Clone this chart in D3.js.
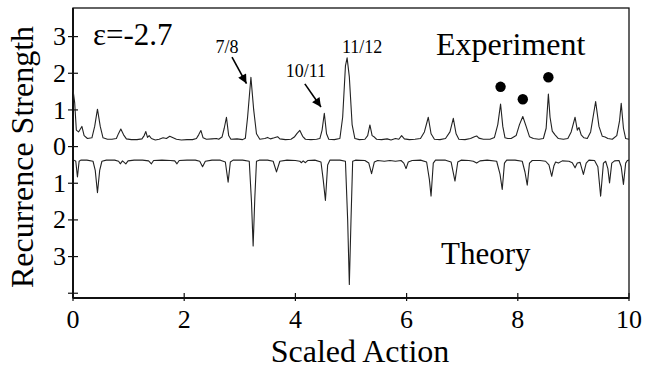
<!DOCTYPE html>
<html>
<head>
<meta charset="utf-8">
<script src="https://cdn.jsdelivr.net/npm/d3@7"></script>
<style>
  body { margin: 0; background: #fff; }
</style>
</head>
<body>
<div id="chart"></div>
<script>
  // [scaled action, recurrence strength]
  var experiment = [
    [0.00,1.55],[0.03,1.20],[0.06,0.45],[0.10,0.40],[0.16,0.55],[0.20,0.30],[0.26,0.22],[0.34,0.24],
    [0.39,0.55],[0.44,1.02],[0.49,0.55],[0.54,0.24],[0.62,0.20],[0.70,0.20],[0.78,0.22],[0.82,0.36],
    [0.86,0.48],[0.91,0.32],[0.96,0.21],[1.05,0.19],[1.15,0.19],[1.24,0.21],[1.28,0.30],[1.31,0.41],
    [1.34,0.25],[1.37,0.30],[1.41,0.22],[1.48,0.18],[1.55,0.20],[1.62,0.24],[1.68,0.22],[1.74,0.28],
    [1.80,0.24],[1.86,0.20],[1.95,0.18],[2.05,0.19],[2.15,0.19],[2.22,0.22],[2.26,0.32],[2.30,0.44],
    [2.34,0.24],[2.40,0.20],[2.50,0.21],[2.58,0.22],[2.62,0.20],[2.68,0.26],[2.72,0.50],[2.76,0.80],
    [2.80,0.30],[2.84,0.20],[2.95,0.21],[3.05,0.19],[3.10,0.23],[3.14,0.80],[3.20,1.89],[3.25,1.00],
    [3.30,0.35],[3.36,0.20],[3.45,0.22],[3.50,0.25],[3.55,0.21],[3.62,0.24],[3.68,0.27],[3.72,0.21],
    [3.82,0.19],[3.92,0.20],[3.98,0.26],[4.03,0.36],[4.08,0.44],[4.13,0.28],[4.18,0.20],[4.28,0.19],
    [4.38,0.20],[4.44,0.22],[4.48,0.45],[4.52,0.91],[4.56,0.35],[4.60,0.20],[4.70,0.19],[4.80,0.22],
    [4.85,0.80],[4.90,2.20],[4.93,2.42],[4.97,1.90],[5.02,0.60],[5.07,0.22],[5.15,0.19],[5.25,0.20],
    [5.30,0.30],[5.34,0.59],[5.38,0.30],[5.42,0.26],[5.46,0.20],[5.55,0.19],[5.65,0.21],[5.72,0.18],
    [5.80,0.22],[5.86,0.20],[5.91,0.30],[5.96,0.21],[6.05,0.19],[6.15,0.20],[6.25,0.22],[6.32,0.40],
    [6.39,0.80],[6.44,0.35],[6.50,0.20],[6.60,0.19],[6.70,0.22],[6.78,0.40],[6.84,0.77],[6.89,0.35],
    [6.94,0.20],[7.05,0.19],[7.15,0.22],[7.22,0.27],[7.26,0.29],[7.30,0.23],[7.38,0.20],[7.50,0.20],
    [7.58,0.25],[7.64,0.60],[7.69,1.16],[7.73,0.55],[7.77,0.24],[7.82,0.22],[7.88,0.22],[7.97,0.30],
    [8.03,0.60],[8.09,0.82],[8.15,0.55],[8.21,0.27],[8.28,0.22],[8.38,0.20],[8.46,0.22],[8.51,0.50],
    [8.55,1.43],[8.58,0.80],[8.62,0.42],[8.67,0.32],[8.73,0.22],[8.82,0.20],[8.90,0.22],[8.96,0.40],
    [9.03,0.80],[9.07,0.45],[9.10,0.52],[9.14,0.32],[9.19,0.24],[9.25,0.22],[9.31,0.40],[9.40,1.23],
    [9.46,0.55],[9.52,0.28],[9.57,0.26],[9.62,0.22],[9.70,0.20],[9.78,0.30],[9.83,0.70],[9.86,1.18],
    [9.90,0.50],[9.94,0.22],[10.0,0.20]
  ];

  // theory is plotted downward
  var theory = [
    [0.02,-0.37],[0.05,-0.40],[0.08,-0.83],[0.11,-0.40],[0.14,-0.37],[0.25,-0.37],[0.36,-0.40],[0.40,-0.65],
    [0.44,-1.26],[0.48,-0.65],[0.52,-0.40],[0.60,-0.37],[0.75,-0.37],[0.82,-0.40],[0.85,-0.47],[0.89,-0.39],
    [0.95,-0.47],[0.99,-0.39],[1.10,-0.37],[1.25,-0.37],[1.36,-0.39],[1.41,-0.47],[1.45,-0.38],[1.60,-0.37],
    [1.75,-0.38],[1.83,-0.39],[1.87,-0.47],[1.91,-0.38],[2.05,-0.37],[2.20,-0.37],[2.28,-0.40],[2.33,-0.55],
    [2.38,-0.40],[2.50,-0.37],[2.65,-0.37],[2.74,-0.42],[2.79,-0.97],[2.83,-0.42],[2.88,-0.37],[3.05,-0.37],
    [3.17,-0.40],[3.21,-1.50],[3.24,-2.71],[3.27,-1.40],[3.30,-0.40],[3.35,-0.37],[3.50,-0.37],[3.60,-0.40],
    [3.66,-0.69],[3.72,-0.40],[3.85,-0.37],[4.00,-0.38],[4.08,-0.40],[4.11,-0.44],[4.14,-0.39],[4.18,-0.44],
    [4.22,-0.38],[4.35,-0.37],[4.46,-0.42],[4.50,-0.90],[4.54,-1.47],[4.58,-0.50],[4.62,-0.37],[4.80,-0.37],
    [4.90,-0.40],[4.94,-2.00],[4.97,-3.76],[5.00,-2.00],[5.03,-0.40],[5.08,-0.37],[5.25,-0.38],[5.32,-0.45],
    [5.37,-0.74],[5.42,-0.42],[5.48,-0.38],[5.60,-0.40],[5.70,-0.38],[5.80,-0.40],[5.90,-0.38],[5.95,-0.45],
    [5.99,-0.60],[6.03,-0.42],[6.10,-0.38],[6.25,-0.37],[6.36,-0.42],[6.41,-0.90],[6.44,-1.35],[6.48,-0.45],
    [6.52,-0.37],[6.70,-0.37],[6.80,-0.42],[6.87,-0.94],[6.92,-0.42],[6.98,-0.37],[7.12,-0.38],[7.20,-0.40],
    [7.26,-0.45],[7.32,-0.39],[7.45,-0.37],[7.62,-0.40],[7.68,-0.75],[7.72,-1.17],[7.76,-0.45],[7.80,-0.37],
    [7.95,-0.37],[8.08,-0.40],[8.13,-0.70],[8.17,-1.05],[8.21,-0.45],[8.26,-0.38],[8.40,-0.38],[8.50,-0.40],
    [8.56,-0.50],[8.61,-0.81],[8.65,-0.52],[8.68,-0.42],[8.73,-0.45],[8.80,-0.39],[8.92,-0.40],[8.98,-0.44],
    [9.03,-0.58],[9.07,-0.45],[9.12,-0.43],[9.18,-0.76],[9.23,-0.45],[9.28,-0.37],[9.38,-0.38],[9.44,-0.55],
    [9.49,-1.35],[9.54,-0.45],[9.58,-0.40],[9.62,-0.60],[9.65,-0.99],[9.69,-0.45],[9.74,-0.39],[9.82,-0.38],
    [9.86,-0.55],[9.90,-1.03],[9.94,-0.45],[9.97,-0.38],[10.0,-0.37]
  ];

  // marked peaks (the three dots)
  var dots = [[7.69,1.63],[8.09,1.29],[8.55,1.89]];

  var xTicks = [0, 2, 4, 6, 8, 10];
  var yTicks = [3, 2, 1, 0, -1, -2, -3, -4];
  var yLabels = ["3", "2", "1", "0", "1", "2", "3", ""];

  // peak labels: text position and arrow (from -> to), in data units
  var peakLabels = [
    {text: "7/8",   x: 2.77, y: 2.55, arrow: [[2.86, 2.44], [3.12, 1.72]]},
    {text: "10/11", x: 4.19, y: 1.90, arrow: [[4.17, 1.71], [4.46, 1.08]]},
    {text: "11/12", x: 5.20, y: 2.55, arrow: null}
  ];

  var serif = "'Liberation Serif'";

  var margin = {top: 8, right: 17, bottom: 72, left: 73},
      width = 646 - margin.left - margin.right,
      height = 370 - margin.top - margin.bottom;

  var svg = d3.select("#chart")
    .append("svg")
      .attr("width", 646)
      .attr("height", 370)
      .style("font-family", serif)
    .append("g")
      .attr("transform", "translate(" + margin.left + "," + margin.top + ")");

  var x = d3.scaleLinear().domain([0, 10]).range([0, width]);
  var y = d3.scaleLinear().domain([-4.13, 3.78]).range([height, 0]);

  // frame
  svg.append("rect")
    .attr("width", width)
    .attr("height", height)
    .attr("fill", "none")
    .attr("stroke", "#111")
    .attr("stroke-width", 1.3);

  // axes: ticks cross the frame line
  var xAxis = svg.append("g").attr("transform", "translate(0," + height + ")");
  xAxis.append("line").attr("x1", 0).attr("x2", width).attr("stroke", "#111").attr("stroke-width", 2);
  xAxis.selectAll(".tk").data(xTicks).enter().append("line")
    .attr("x1", d => x(d)).attr("x2", d => x(d))
    .attr("y1", -5).attr("y2", 3)
    .attr("stroke", "#111").attr("stroke-width", 1.2);
  xAxis.selectAll("text").data(xTicks).enter().append("text")
    .attr("x", d => x(d))
    .attr("y", 30)
    .attr("text-anchor", "middle")
    .style("font-family", serif)
    .style("font-size", "26px")
    .text(d => d);

  var yAxis = svg.append("g");
  yAxis.append("line").attr("y1", 0).attr("y2", height).attr("stroke", "#111").attr("stroke-width", 2);
  yAxis.selectAll(".tk").data(yTicks).enter().append("line")
    .attr("y1", d => y(d)).attr("y2", d => y(d))
    .attr("x1", -5).attr("x2", 5)
    .attr("stroke", "#111").attr("stroke-width", 1.2);
  yAxis.selectAll("text").data(yTicks).enter().append("text")
    .attr("x", -7)
    .attr("y", d => y(d))
    .attr("dy", "0.33em")
    .attr("text-anchor", "end")
    .style("font-family", serif)
    .style("font-size", "26px")
    .text((d, i) => yLabels[i]);

  // curves
  var line = d3.line()
    .x(d => x(d[0]))
    .y(d => y(d[1]));

  svg.append("path")
    .datum(experiment)
    .attr("d", line)
    .attr("fill", "none")
    .attr("stroke", "#222")
    .attr("stroke-width", 1.1)
    .attr("stroke-linejoin", "round");

  svg.append("path")
    .datum(theory)
    .attr("d", line)
    .attr("fill", "none")
    .attr("stroke", "#222")
    .attr("stroke-width", 1.1)
    .attr("stroke-linejoin", "round");

  svg.selectAll(".dot").data(dots).enter().append("circle")
    .attr("cx", d => x(d[0]))
    .attr("cy", d => y(d[1]))
    .attr("r", 5.2)
    .attr("fill", "#000");

  // arrowhead
  svg.append("defs").append("marker")
    .attr("id", "head")
    .attr("viewBox", "0 0 10 10")
    .attr("refX", 10).attr("refY", 5)
    .attr("markerWidth", 11).attr("markerHeight", 9)
    .attr("markerUnits", "userSpaceOnUse")
    .attr("orient", "auto")
    .append("path")
      .attr("d", "M0,0L10,5L0,10Z")
      .attr("fill", "#000");

  svg.selectAll(".plabel").data(peakLabels).enter().append("text")
    .attr("x", d => x(d.x))
    .attr("y", d => y(d.y))
    .attr("text-anchor", "middle")
    .style("font-family", serif)
    .style("font-size", "18px")
    .text(d => d.text);

  svg.selectAll(".arrow").data(peakLabels.filter(d => d.arrow)).enter().append("line")
    .attr("x1", d => x(d.arrow[0][0])).attr("y1", d => y(d.arrow[0][1]))
    .attr("x2", d => x(d.arrow[1][0])).attr("y2", d => y(d.arrow[1][1]))
    .attr("stroke", "#000")
    .attr("stroke-width", 1.6)
    .attr("marker-end", "url(#head)");

  // panel texts
  svg.append("text").attr("x", 20).attr("y", 37)
    .style("font-family", serif).style("font-size", "31px").text("ε=-2.7");
  svg.append("text").attr("x", 363).attr("y", 47)
    .style("font-family", serif).style("font-size", "32px").text("Experiment");
  svg.append("text").attr("x", 368).attr("y", 256)
    .style("font-family", serif).style("font-size", "31px").text("Theory");

  // axis titles
  svg.append("text")
    .attr("x", 287)
    .attr("y", height + 64)
    .attr("text-anchor", "middle")
    .style("font-family", serif)
    .style("font-size", "32px")
    .text("Scaled Action");

  svg.append("text")
    .attr("transform", "translate(-40," + (height / 2 + 4) + ") rotate(-90)")
    .attr("text-anchor", "middle")
    .style("font-family", serif)
    .style("font-size", "32px")
    .text("Recurrence Strength");
</script>
</body>
</html>
